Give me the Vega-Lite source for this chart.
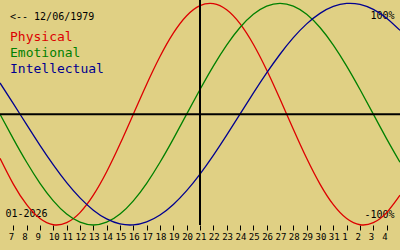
{
  "$schema": "https://vega.github.io/schema/vega-lite/v6.json",
  "width": 400,
  "height": 225,
  "autosize": {"type": "none"},
  "padding": {"left": 0, "top": 0, "right": 0, "bottom": 25},
  "background": "#e0d084",
  "config": {"view": {"stroke": null}},
  "layer": [
    {
      "data": {"values": [
        {"day": 6, "series": "Physical", "value": -0.3984},
        {"day": 7, "series": "Physical", "value": -0.6311},
        {"day": 8, "series": "Physical", "value": -0.8170},
        {"day": 9, "series": "Physical", "value": -0.9423},
        {"day": 10, "series": "Physical", "value": -0.9977},
        {"day": 11, "series": "Physical", "value": -0.9791},
        {"day": 12, "series": "Physical", "value": -0.8879},
        {"day": 13, "series": "Physical", "value": -0.7308},
        {"day": 14, "series": "Physical", "value": -0.5196},
        {"day": 15, "series": "Physical", "value": -0.2698},
        {"day": 16, "series": "Physical", "value": 0},
        {"day": 17, "series": "Physical", "value": 0.2698},
        {"day": 18, "series": "Physical", "value": 0.5196},
        {"day": 19, "series": "Physical", "value": 0.7308},
        {"day": 20, "series": "Physical", "value": 0.8879},
        {"day": 21, "series": "Physical", "value": 0.9791},
        {"day": 22, "series": "Physical", "value": 0.9977},
        {"day": 23, "series": "Physical", "value": 0.9423},
        {"day": 24, "series": "Physical", "value": 0.8170},
        {"day": 25, "series": "Physical", "value": 0.6311},
        {"day": 26, "series": "Physical", "value": 0.3984},
        {"day": 27, "series": "Physical", "value": 0.1362},
        {"day": 28, "series": "Physical", "value": -0.1362},
        {"day": 29, "series": "Physical", "value": -0.3984},
        {"day": 30, "series": "Physical", "value": -0.6311},
        {"day": 31, "series": "Physical", "value": -0.8170},
        {"day": 32, "series": "Physical", "value": -0.9423},
        {"day": 33, "series": "Physical", "value": -0.9977},
        {"day": 34, "series": "Physical", "value": -0.9791},
        {"day": 35, "series": "Physical", "value": -0.8879},
        {"day": 36, "series": "Physical", "value": -0.7308},
        {"day": 6, "series": "Emotional", "value": 0},
        {"day": 7, "series": "Emotional", "value": -0.2225},
        {"day": 8, "series": "Emotional", "value": -0.4339},
        {"day": 9, "series": "Emotional", "value": -0.6235},
        {"day": 10, "series": "Emotional", "value": -0.7818},
        {"day": 11, "series": "Emotional", "value": -0.9010},
        {"day": 12, "series": "Emotional", "value": -0.9749},
        {"day": 13, "series": "Emotional", "value": -1},
        {"day": 14, "series": "Emotional", "value": -0.9749},
        {"day": 15, "series": "Emotional", "value": -0.9010},
        {"day": 16, "series": "Emotional", "value": -0.7818},
        {"day": 17, "series": "Emotional", "value": -0.6235},
        {"day": 18, "series": "Emotional", "value": -0.4339},
        {"day": 19, "series": "Emotional", "value": -0.2225},
        {"day": 20, "series": "Emotional", "value": 0},
        {"day": 21, "series": "Emotional", "value": 0.2225},
        {"day": 22, "series": "Emotional", "value": 0.4339},
        {"day": 23, "series": "Emotional", "value": 0.6235},
        {"day": 24, "series": "Emotional", "value": 0.7818},
        {"day": 25, "series": "Emotional", "value": 0.9010},
        {"day": 26, "series": "Emotional", "value": 0.9749},
        {"day": 27, "series": "Emotional", "value": 1},
        {"day": 28, "series": "Emotional", "value": 0.9749},
        {"day": 29, "series": "Emotional", "value": 0.9010},
        {"day": 30, "series": "Emotional", "value": 0.7818},
        {"day": 31, "series": "Emotional", "value": 0.6235},
        {"day": 32, "series": "Emotional", "value": 0.4339},
        {"day": 33, "series": "Emotional", "value": 0.2225},
        {"day": 34, "series": "Emotional", "value": 0},
        {"day": 35, "series": "Emotional", "value": -0.2225},
        {"day": 36, "series": "Emotional", "value": -0.4339},
        {"day": 6, "series": "Intellectual", "value": 0.2817},
        {"day": 7, "series": "Intellectual", "value": 0.0951},
        {"day": 8, "series": "Intellectual", "value": -0.0951},
        {"day": 9, "series": "Intellectual", "value": -0.2817},
        {"day": 10, "series": "Intellectual", "value": -0.4582},
        {"day": 11, "series": "Intellectual", "value": -0.6182},
        {"day": 12, "series": "Intellectual", "value": -0.7557},
        {"day": 13, "series": "Intellectual", "value": -0.8660},
        {"day": 14, "series": "Intellectual", "value": -0.9450},
        {"day": 15, "series": "Intellectual", "value": -0.9898},
        {"day": 16, "series": "Intellectual", "value": -0.9989},
        {"day": 17, "series": "Intellectual", "value": -0.9718},
        {"day": 18, "series": "Intellectual", "value": -0.9096},
        {"day": 19, "series": "Intellectual", "value": -0.8146},
        {"day": 20, "series": "Intellectual", "value": -0.6901},
        {"day": 21, "series": "Intellectual", "value": -0.5406},
        {"day": 22, "series": "Intellectual", "value": -0.3717},
        {"day": 23, "series": "Intellectual", "value": -0.1893},
        {"day": 24, "series": "Intellectual", "value": 0},
        {"day": 25, "series": "Intellectual", "value": 0.1893},
        {"day": 26, "series": "Intellectual", "value": 0.3717},
        {"day": 27, "series": "Intellectual", "value": 0.5406},
        {"day": 28, "series": "Intellectual", "value": 0.6901},
        {"day": 29, "series": "Intellectual", "value": 0.8146},
        {"day": 30, "series": "Intellectual", "value": 0.9096},
        {"day": 31, "series": "Intellectual", "value": 0.9718},
        {"day": 32, "series": "Intellectual", "value": 0.9989},
        {"day": 33, "series": "Intellectual", "value": 0.9898},
        {"day": 34, "series": "Intellectual", "value": 0.9450},
        {"day": 35, "series": "Intellectual", "value": 0.8660},
        {"day": 36, "series": "Intellectual", "value": 0.7557}
      ]},
      "mark": {"type": "line", "interpolate": "natural", "strokeWidth": 1.3},
      "encoding": {
        "x": {
          "field": "day", "type": "quantitative",
          "scale": {"domain": [6, 36], "nice": false, "zero": false},
          "axis": {
            "orient": "bottom",
            "values": [7,8,9,10,11,12,13,14,15,16,17,18,19,20,21,22,23,24,25,26,27,28,29,30,31,32,33,34,35],
            "tickCount": 60,
            "labelExpr": "datum.value > 31 ? datum.value - 31 : datum.value",
            "domain": false, "grid": false,
            "tickSize": 5, "tickColor": "black", "tickWidth": 1,
            "labelFont": "DejaVu Sans Mono", "labelFontSize": 9, "labelColor": "black",
            "labelAlign": "left", "labelOffset": -5, "labelPadding": 2, "labelBaseline": "top",
            "labelFlush": false, "labelOverlap": false,
            "title": "01-2026", "titleX": 5, "titleY": -9, "titleAlign": "left", "titleAnchor": "start",
            "titleBaseline": "alphabetic", "titleFont": "DejaVu Sans Mono", "titleFontSize": 10,
            "titleFontWeight": "normal", "titleColor": "black"
          }
        },
        "y": {
          "field": "value", "type": "quantitative",
          "scale": {"domain": [-1, 1.03], "nice": false, "zero": false},
          "axis": {
            "orient": "right",
            "values": [1, -1],
            "labelExpr": "datum.value > 0 ? '100%' : '-100%'",
            "ticks": false, "domain": false, "grid": false, "title": null,
            "labelAlign": "right", "labelPadding": -6, "labelBaseline": "alphabetic",
            "labelOffset": {"condition": {"test": "datum.value > 0", "value": 15}, "value": -8},
            "labelFont": "DejaVu Sans Mono", "labelFontSize": 10, "labelColor": "black",
            "labelFlush": false, "labelOverlap": false
          }
        },
        "color": {
          "field": "series", "type": "nominal",
          "scale": {"domain": ["Physical", "Emotional", "Intellectual"], "range": ["#dd0000", "#008000", "#000090"]},
          "legend": {
            "orient": "none", "legendX": 10, "legendY": 12,
            "title": "<-- 12/06/1979",
            "titleFont": "DejaVu Sans Mono", "titleFontSize": 10, "titleFontWeight": "normal", "titleColor": "black",
            "titlePadding": 8,
            "labelFont": "DejaVu Sans Mono", "labelFontSize": 13,
            "labelColor": {"expr": "datum.value == 'Physical' ? '#dd0000' : datum.value == 'Emotional' ? '#008000' : '#000090'"},
            "symbolSize": 0, "symbolOpacity": 0, "symbolStrokeWidth": 0, "labelOffset": -13,
            "rowPadding": 2, "padding": 0
          }
        }
      }
    },
    {
      "data": {"values": [{"level": 0}]},
      "mark": {"type": "rule", "color": "black", "strokeWidth": 2},
      "encoding": {"y": {"field": "level", "type": "quantitative"}}
    },
    {
      "data": {"values": [{"today": 21}]},
      "mark": {"type": "rule", "color": "black", "strokeWidth": 2},
      "encoding": {"x": {"field": "today", "type": "quantitative"}}
    }
  ]
}
